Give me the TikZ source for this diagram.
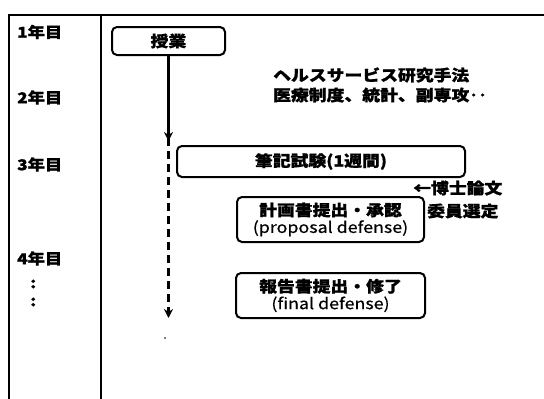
\documentclass[tikz,border=0pt]{standalone}
\usepackage{fontspec}
\usetikzlibrary{arrows.meta}
\newfontfamily\jp[FakeStretch=1.15, BoldFeatures={FakeBold=1.2}]{Noto Sans CJK JP}
\newfontfamily\jpm[FakeStretch=1.15, FakeBold=0.5]{Noto Sans CJK JP}
\tikzset{
  frame/.style={line width=2pt, black},
  yearlbl/.style={anchor=west, inner sep=0pt, font=\jp\bfseries\fontsize{15}{17}\selectfont},
  stagebox/.style={draw, line width=2pt, rounded corners=5pt, inner sep=0pt, align=center,
     font=\jp\bfseries\fontsize{15.5}{18}\selectfont},
  note/.style={anchor=west, inner sep=0pt, font=\jp\bfseries\fontsize{15.5}{18}\selectfont},
  flow/.style={line width=2.2pt, -{Stealth[length=9pt,width=9pt]}},
}
\begin{document}
\begin{tikzpicture}[x=1pt,y=-1pt]
\useasboundingbox (0,0) rectangle (544,399);
% frame
\draw[frame] (8.5,399) -- (8.5,14.5) -- (544,14.5);
\draw[frame] (100.5,14.5) -- (100.5,399);
% year labels
\node[yearlbl] (y1) at (17,32) {1年目};
\node[yearlbl] (y2) at (17,97.5) {2年目};
\node[yearlbl] (y3) at (17,164.5) {3年目};
\node[yearlbl] (y4) at (17,258.5) {4年目};
\node[yearlbl] (c1) at (30,284) {:};
\node[yearlbl] (c2) at (30,302) {:};
% boxes
\node[stagebox, minimum width=113pt, minimum height=28pt] (jugyo) at (168.5,41) {授業};
\node[stagebox, minimum width=288pt, minimum height=31pt] (hikki) at (321,161.5) {筆記試験(1週間)};
\node[stagebox, minimum width=187pt, minimum height=45pt] (keikaku) at (330.5,219.5)
  {計画書提出・承認\\[-1pt]{\mdseries\jpm (proposal defense)}};
\node[stagebox, minimum width=189pt, minimum height=45pt] (houkoku) at (330.5,295.5)
  {報告書提出・修了\\[-1pt]{\mdseries\jpm (final defense)}};
% notes
\node[note] (n1) at (273,75) {ヘルスサービス研究手法};
\node[note] (n2) at (273,95) {医療制度、統計、副専攻‥};
\node[note] (n3) at (413,188) {←博士論文};
\node[note] (n4) at (427,211) {委員選定};
% arrows
\coordinate (a1) at (168.5,141);
\coordinate (a2) at (168.5,318);
\draw[flow] (jugyo.south) -- (a1);
\draw[flow, line width=2.6pt, dash pattern=on 8pt off 5pt] ([yshift=3pt]a1) -- (a2);
\fill (165,338) circle (0.9pt);
\end{tikzpicture}
\end{document}
